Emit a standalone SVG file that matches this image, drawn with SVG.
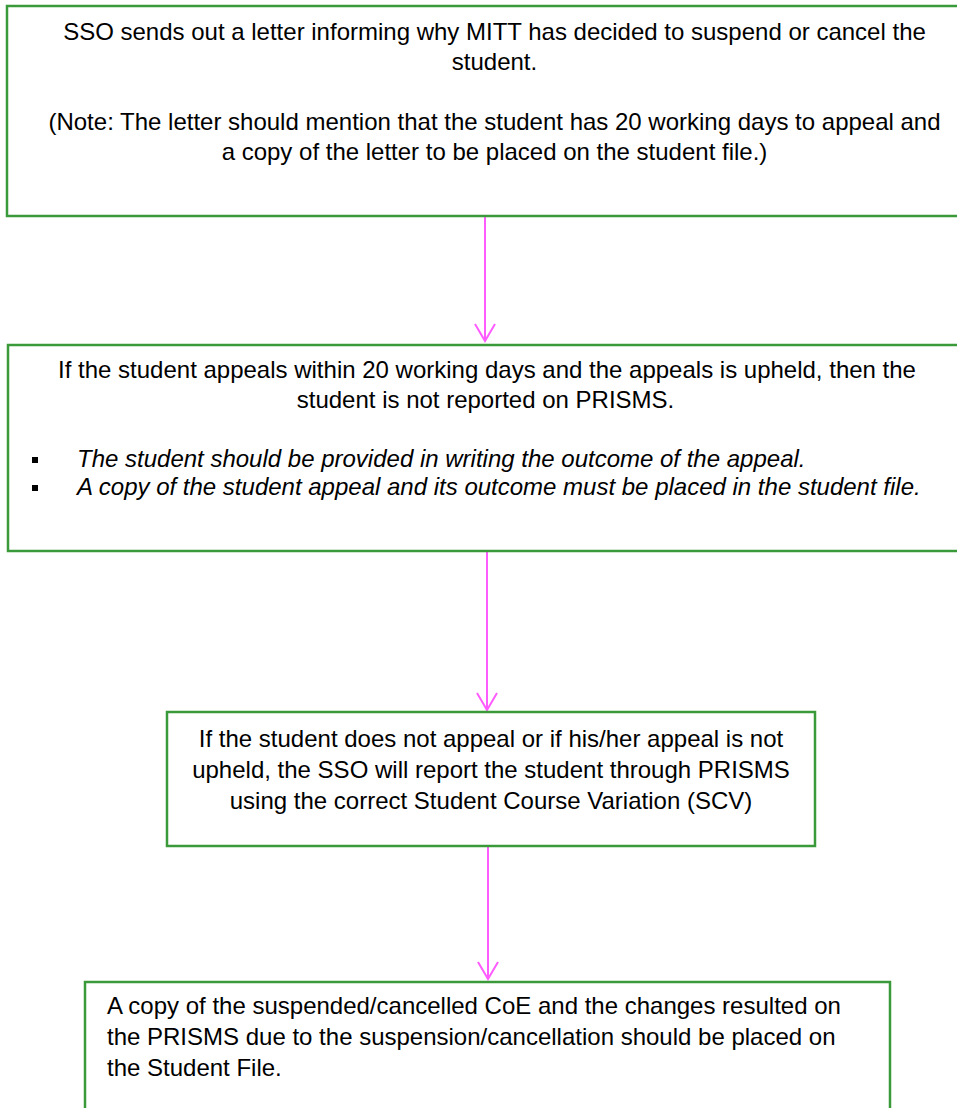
<svg xmlns="http://www.w3.org/2000/svg" width="957" height="1108" viewBox="0 0 957 1108">
<style>
.box{fill:#ffffff;stroke:#3A9A3A;stroke-width:2.5}
.t{font-family:"Liberation Sans",Arial,sans-serif;font-size:24px;fill:#000000}
.c{text-anchor:middle}
.i{font-style:italic}
.conn{stroke:#FF5CFF;stroke-width:2;fill:none}
.bul{fill:#000000}
</style>
<defs>
<marker id="ah" markerUnits="userSpaceOnUse" markerWidth="26" markerHeight="26" viewBox="-20 -13 23 26" refX="0" refY="0" orient="auto">
<path d="M-17,-10 L0,0 L-17,10" fill="none" stroke="#FF5CFF" stroke-width="2"/>
</marker>
</defs>
<rect width="957" height="1108" fill="#ffffff"/>
<g id="connectors">
<line class="conn" x1="485" y1="217" x2="485" y2="341" marker-end="url(#ah)"/>
<line class="conn" x1="487" y1="552" x2="487" y2="710" marker-end="url(#ah)"/>
<line class="conn" x1="488" y1="847" x2="488" y2="979" marker-end="url(#ah)"/>
</g>
<g id="node1">
<rect class="box" x="7" y="6" width="990" height="210"/>
<text class="t c" x="494.5" y="39.5">SSO sends out a letter informing why MITT has decided to suspend or cancel the</text>
<text class="t c" x="494.5" y="69.5">student.</text>
<text class="t c" x="494.5" y="129.5">(Note: The letter should mention that the student has 20 working days to appeal and</text>
<text class="t c" x="494.5" y="159.5">a copy of the letter to be placed on the student file.)</text>
</g>
<g id="node2">
<rect class="box" x="8" y="345" width="990" height="206"/>
<text class="t c" x="487" y="378">If the student appeals within 20 working days and the appeals is upheld, then the</text>
<text class="t c" x="485.5" y="408">student is not reported on PRISMS.</text>
<rect class="bul" x="32" y="457" width="6" height="6"/>
<text class="t i" x="77" y="467">The student should be provided in writing the outcome of the appeal.</text>
<rect class="bul" x="32" y="485" width="6" height="6"/>
<text class="t i" x="77" y="495">A copy of the student appeal and its outcome must be placed in the student file.</text>
</g>
<g id="node3">
<rect class="box" x="167" y="712" width="648" height="134"/>
<text class="t c" x="491" y="747">If the student does not appeal or if his/her appeal is not</text>
<text class="t c" x="491" y="778">upheld, the SSO will report the student through PRISMS</text>
<text class="t c" x="491" y="809">using the correct Student Course Variation (SCV)</text>
</g>
<g id="node4">
<rect class="box" x="85" y="982" width="805" height="160"/>
<text class="t" x="107" y="1014">A copy of the suspended/cancelled CoE and the changes resulted on</text>
<text class="t" x="107" y="1045">the PRISMS due to the suspension/cancellation should be placed on</text>
<text class="t" x="107" y="1076">the Student File.</text>
</g>
</svg>
